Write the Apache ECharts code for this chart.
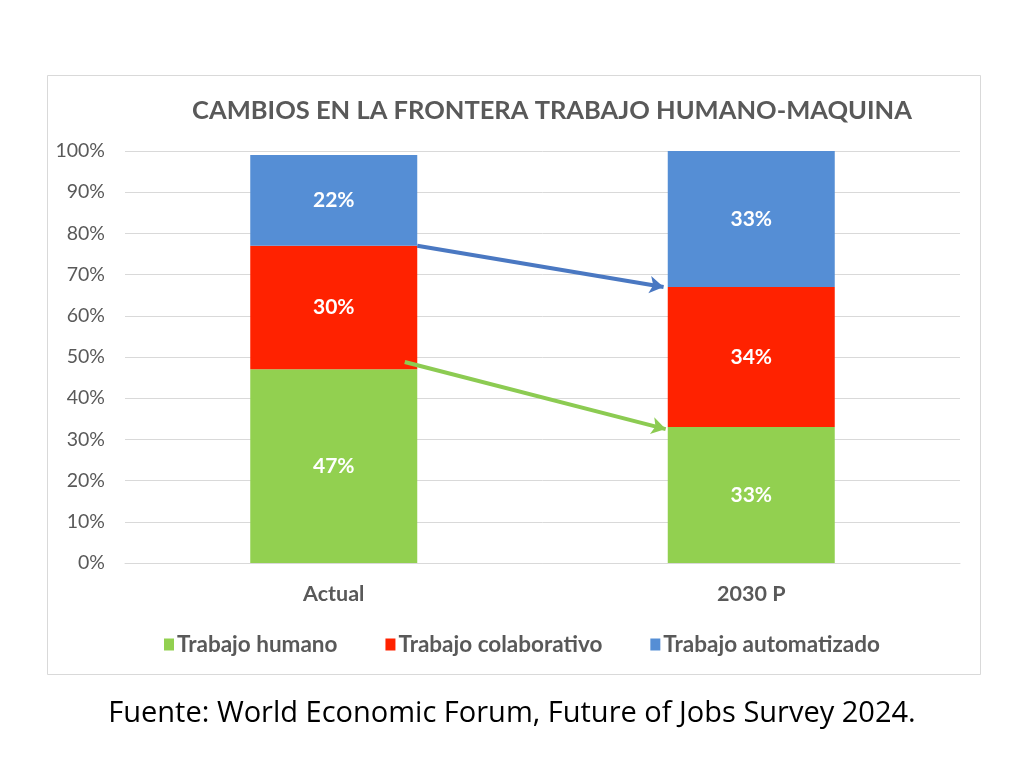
<!DOCTYPE html>
<html lang="es">
<head>
<meta charset="UTF-8">
<title>Cambios en la frontera trabajo humano-maquina</title>
<script src="https://cdn.jsdelivr.net/npm/echarts@6/dist/echarts.min.js"></script>
<style>
  html, body { margin: 0; padding: 0; background: #fff; }
  #chart { width: 1024px; height: 757px; }
</style>
</head>
<body>
<div id="chart"></div>
<script>
// datos
var categorias = ['Actual', '2030 P'];
var humano = [47, 33];
var colaborativo = [30, 34];
var automatizado = [22, 33];
var ticksY = [0, 10, 20, 30, 40, 50, 60, 70, 80, 90, 100];
// flechas: [x inicio, % inicio, x fin, % fin] sobre eje auxiliar (categorias en 0 y 1)
var flechaAzul = [0.2, 77, 0.79, 67];
var flechaVerde = [0.17, 48.8, 0.795, 32.5];

var fuente = 'Lato, "Open Sans", sans-serif';
var gris = '#595959';

var chart = echarts.init(document.getElementById('chart'));

function etiqueta() {
    return {
        show: true,
        position: 'inside',
        color: '#fff',
        fontWeight: 'bold',
        fontSize: 21,
        fontFamily: fuente,
        formatter: '{c}%'
    };
}

function flecha(f, color, ancho) {
    return {
        silent: true,
        symbol: ['none', 'arrow'],
        symbolSize: [13, 14],
        label: { show: false },
        lineStyle: { color: color, width: ancho, type: 'solid' },
        data: [[
            { coord: [f[0], f[1]] },
            { coord: [f[2], f[3]] }
        ]]
    };
}

var option = {
    backgroundColor: '#fff',
    animation: false,
    title: {
        text: 'CAMBIOS EN LA FRONTERA TRABAJO HUMANO-MAQUINA',
        left: 547,
        top: 93,
        textAlign: 'center',
        textStyle: { color: gris, fontSize: 25.5, fontWeight: 'bold', fontFamily: fuente }
    },
    legend: {
        data: ['Trabajo humano', 'Trabajo colaborativo', 'Trabajo automatizado'],
        left: 159,
        top: 628,
        itemWidth: 10,
        itemHeight: 12,
        itemGap: 48,
        icon: 'rect',
        textStyle: { color: gris, fontSize: 22.5, fontWeight: 'bold', fontFamily: fuente, padding: [0, 0, 0, -2] }
    },
    grid: { left: 125, right: 64, top: 151, bottom: 194 },
    xAxis: [{
        type: 'category',
        data: categorias,
        axisLine: { lineStyle: { color: '#d9d9d9', width: 1 } },
        axisTick: { show: false },
        axisLabel: { color: gris, fontSize: 21.5, fontWeight: 'bold', fontFamily: fuente, margin: 20 }
    }, {
        type: 'value',
        min: -0.5,
        max: 1.5,
        show: false
    }],
    yAxis: {
        type: 'value',
        min: ticksY[0],
        max: ticksY[ticksY.length - 1],
        interval: 10,
        axisLine: { show: false },
        axisTick: { show: false },
        splitLine: { lineStyle: { color: '#d9d9d9', width: 1 } },
        axisLabel: { color: gris, fontSize: 19.5, fontFamily: fuente, margin: 20, formatter: '{value}%' }
    },
    series: [{
        name: 'Trabajo humano',
        type: 'bar',
        stack: 'total',
        barWidth: '40%',
        data: humano,
        itemStyle: { color: '#92D050' },
        label: etiqueta()
    }, {
        name: 'Trabajo colaborativo',
        type: 'bar',
        stack: 'total',
        data: colaborativo,
        itemStyle: { color: '#FF2200' },
        label: etiqueta()
    }, {
        name: 'Trabajo automatizado',
        type: 'bar',
        stack: 'total',
        data: automatizado,
        itemStyle: { color: '#558ED5' },
        label: etiqueta()
    }, {
        name: 'flechas-azul',
        type: 'line',
        xAxisIndex: 1,
        data: [],
        markLine: flecha(flechaAzul, '#4A78C2', 4)
    }, {
        name: 'flechas-verde',
        type: 'line',
        xAxisIndex: 1,
        data: [],
        markLine: flecha(flechaVerde, '#8CCB52', 4)
    }],
    graphic: [{
        type: 'rect',
        shape: { x: 47.5, y: 75.5, width: 933, height: 599 },
        style: { fill: 'none', stroke: '#d9d9d9', lineWidth: 1 },
        z: -1
    }, {
        type: 'text',
        left: 'center',
        top: 699,
        style: {
            text: 'Fuente: World Economic Forum, Future of Jobs Survey 2024.',
            fill: '#000',
            font: '29px "Open Sans", sans-serif'
        }
    }]
};

chart.setOption(option);
</script>
</body>
</html>
